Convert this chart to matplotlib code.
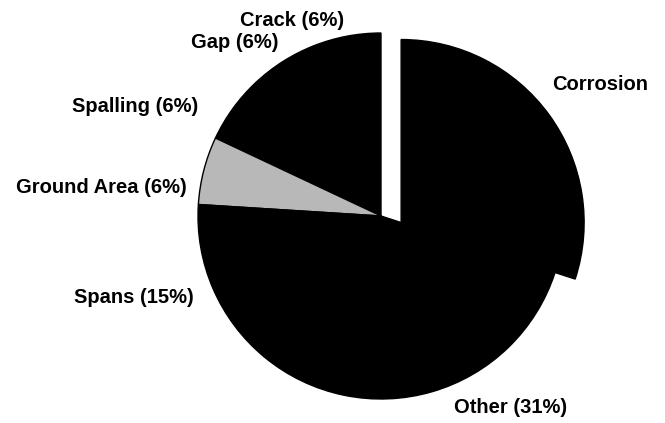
import numpy as np
import matplotlib
matplotlib.use("Agg")
from matplotlib import pyplot as plt

# defect categories, counter-clockwise from 12 o'clock
categories = ["Crack", "Gap", "Spalling", "Ground Area", "Spans", "Other", "Corrosion"]
percent = [6, 6, 6, 6, 15, 31, 30]
label_text = ["Crack (6%)", "Gap (6%)", "Spalling (6%)", "Ground Area (6%)",
              "Spans (15%)", "Other (31%)", "Corrosion"]

# label anchors (data units, pie radius = 1) and alignment
label_pos = [(-0.484, 1.070), (-0.801, 0.946), (-1.343, 0.598), (-1.528, 0.156),
             (-1.348, -0.446), (0.706, -1.048), (0.934, 0.717)]
label_ha = ["center", "center", "center", "center", "center", "center", "left"]

colors = ["black"] * len(categories)
colors[categories.index("Ground Area")] = "#b8b8b8"

fig = plt.figure(figsize=(6.65, 4.23), dpi=100)
ax = fig.add_axes([0, 0, 1, 1])

wedges, _ = ax.pie(percent, colors=colors, startangle=90, counterclock=True,
                   radius=1.0, wedgeprops=dict(edgecolor="black", linewidth=1.0))

# slide the corrosion slice out along its lower edge, so it stays flush with "Other"
cor = wedges[categories.index("Corrosion")]
edge = np.deg2rad(cor.theta1)
shift = 0.11
cor.set_center((shift, shift * np.tan(edge)))

for txt, (x, y), ha in zip(label_text, label_pos, label_ha):
    ax.text(x, y, txt, ha=ha, va="center", fontsize=14.5, fontweight="bold",
            family="Liberation Sans", color="black")

# pie centre at (381, 216) px, radius 183 px
ax.set_xlim(-381 / 183, (665 - 381) / 183)
ax.set_ylim((216 - 423) / 183, 216 / 183)
ax.set_aspect("auto")
ax.axis("off")

fig.savefig("out.png", dpi=100, facecolor="white")
